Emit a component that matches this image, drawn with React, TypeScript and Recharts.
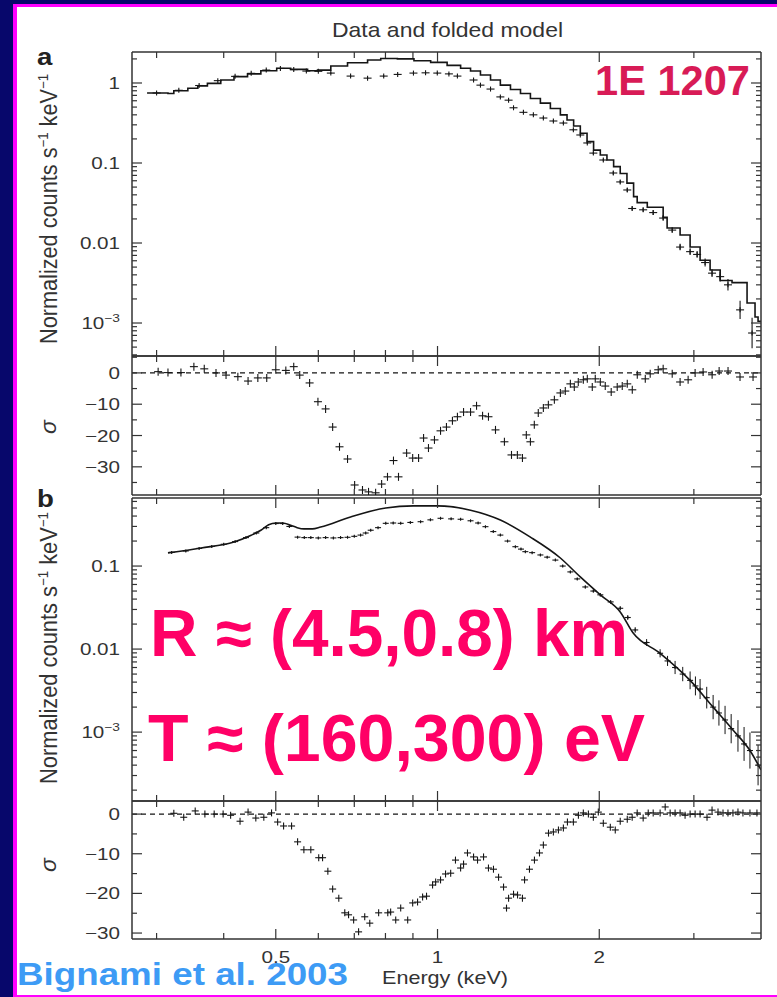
import React from 'react';
import { ComposedChart, Line, Scatter, XAxis, YAxis, ReferenceLine, ErrorBar } from 'recharts';

const FONT = '"Liberation Sans", Arial, Helvetica, sans-serif';
const INK = '#151515';
const FRAME = '#333333';
const LABEL = '#333333';
const NAVY = '#07076b';
const MAGENTA = '#ff00ff';

// ---------- Energy axis ----------
const energyDomain = [0.27, 4.0];
const energyTicks = [0.3, 0.4, 0.5, 0.6, 0.7, 0.8, 0.9, 1, 2, 3];
const energyMajor = [0.5, 1, 2];
const energyLabels = ['0.5', '1', '2'];

// ---------- Spectrum axes ----------
const specMajor = [0.001, 0.01, 0.1, 1];
const specLabels = ['10^−3', '0.01', '0.1', '1'];
const specADomain = [3.87e-4, 2.44];
const specATicks = [
  0.0004, 0.0005, 0.0006, 0.0007, 0.0008, 0.0009, 0.001,
  0.002, 0.003, 0.004, 0.005, 0.006, 0.007, 0.008, 0.009, 0.01,
  0.02, 0.03, 0.04, 0.05, 0.06, 0.07, 0.08, 0.09, 0.1,
  0.2, 0.3, 0.4, 0.5, 0.6, 0.7, 0.8, 0.9, 1, 2,
];
const specBDomain = [1.48e-4, 0.66];
const specBTicks = [
  0.0002, 0.0003, 0.0004, 0.0005, 0.0006, 0.0007, 0.0008, 0.0009, 0.001,
  0.002, 0.003, 0.004, 0.005, 0.006, 0.007, 0.008, 0.009, 0.01,
  0.02, 0.03, 0.04, 0.05, 0.06, 0.07, 0.08, 0.09, 0.1,
  0.2, 0.3, 0.4, 0.5, 0.6,
];

// ---------- Residual axes ----------
const resMajor = [0, -10, -20, -30];
const resLabels = ['0', '−10', '−20', '−30'];
const resADomain = [-39, 5.4];
const resATicks = [5, 0, -5, -10, -15, -20, -25, -30, -35];
const resBDomain = [-31.5, 3.3];
const resBTicks = [0, -5, -10, -15, -20, -25, -30];

// ---------- Panel a : folded model (step) ----------
const modelAE = [0.288, 0.315, 0.323, 0.343, 0.358, 0.373, 0.395, 0.418, 0.443, 0.469, 0.502, 0.533, 0.573, 0.598, 0.633, 0.68, 0.741, 0.784, 0.842, 0.904, 0.971, 1.042, 1.104, 1.152, 1.202, 1.255, 1.309, 1.367, 1.427, 1.489, 1.554, 1.622, 1.693, 1.742, 1.792, 1.844, 1.898, 1.952, 2.009, 2.067, 2.127, 2.188, 2.252, 2.317, 2.353, 2.457, 2.63, 2.675, 2.828, 2.952, 3.081, 3.216, 3.358, 3.533, 3.768, 3.899, 3.95, 4.0];
const modelAV = [0.75, 0.74, 0.8, 0.86, 0.92, 0.99, 1.09, 1.2, 1.3, 1.42, 1.53, 1.48, 1.42, 1.45, 1.63, 1.79, 1.94, 2.02, 2.0, 1.9, 1.81, 1.66, 1.53, 1.41, 1.26, 1.09, 0.94, 0.83, 0.74, 0.64, 0.56, 0.48, 0.4, 0.345, 0.29, 0.235, 0.185, 0.145, 0.126, 0.109, 0.09, 0.074, 0.056, 0.038, 0.032, 0.028, 0.021, 0.0154, 0.0126, 0.0089, 0.0061, 0.0046, 0.0034, 0.0032, 0.00178, 0.00119, 0.00105, 0.00105];

// ---------- Panel a : data ----------
const dataAE = [0.3, 0.33, 0.36, 0.39, 0.42, 0.45, 0.48, 0.51, 0.54, 0.57, 0.6, 0.633, 0.689, 0.741, 0.794, 0.843, 0.902, 0.95, 0.999, 1.05, 1.089, 1.167, 1.202, 1.255, 1.309, 1.356, 1.385, 1.445, 1.508, 1.574, 1.643, 1.715, 1.79, 1.844, 1.9, 1.95, 2.035, 2.124, 2.188, 2.255, 2.303, 2.414, 2.52, 2.63, 2.734, 2.828, 2.952, 3.042, 3.148, 3.243, 3.358, 3.472, 3.657, 3.85];
const dataAV = [0.75, 0.81, 0.93, 1.07, 1.21, 1.32, 1.45, 1.52, 1.47, 1.41, 1.4, 1.33, 1.22, 1.15, 1.22, 1.28, 1.33, 1.34, 1.33, 1.3, 1.22, 1.09, 0.94, 0.84, 0.67, 0.61, 0.49, 0.43, 0.4, 0.365, 0.335, 0.316, 0.26, 0.224, 0.178, 0.133, 0.109, 0.075, 0.058, 0.046, 0.027, 0.026, 0.024, 0.0205, 0.0145, 0.0089, 0.0078, 0.0072, 0.0057, 0.0042, 0.0038, 0.003, 0.00146, 0.00075];
const dataAErr = [1.02, 1.02, 1.02, 1.02, 1.02, 1.02, 1.02, 1.02, 1.02, 1.02, 1.02, 1.02, 1.02, 1.02, 1.02, 1.02, 1.02, 1.02, 1.02, 1.02, 1.02, 1.02, 1.02, 1.02, 1.02, 1.02, 1.02, 1.02, 1.02, 1.02, 1.02, 1.03, 1.03, 1.03, 1.03, 1.04, 1.04, 1.05, 1.05, 1.06, 1.06, 1.06, 1.07, 1.07, 1.08, 1.1, 1.1, 1.1, 1.12, 1.12, 1.15, 1.18, 1.3, 1.55];

// ---------- Residual a ----------
const resAE = [0.302, 0.315, 0.333, 0.352, 0.368, 0.387, 0.404, 0.425, 0.444, 0.463, 0.481, 0.5, 0.522, 0.54, 0.554, 0.578, 0.599, 0.619, 0.638, 0.657, 0.68, 0.701, 0.725, 0.744, 0.767, 0.787, 0.807, 0.828, 0.846, 0.876, 0.899, 0.922, 0.942, 0.962, 0.987, 1.013, 1.039, 1.066, 1.089, 1.118, 1.152, 1.182, 1.213, 1.244, 1.282, 1.332, 1.373, 1.408, 1.439, 1.463, 1.489, 1.514, 1.54, 1.574, 1.608, 1.65, 1.693, 1.729, 1.767, 1.797, 1.828, 1.868, 1.9, 1.941, 1.966, 2.009, 2.052, 2.105, 2.16, 2.207, 2.255, 2.304, 2.354, 2.436, 2.488, 2.575, 2.63, 2.734, 2.828, 2.927, 3.016, 3.121, 3.244, 3.343, 3.473, 3.656, 3.866];
const resAS = [0.4, 0.1, 0.1, 2, 1.3, 0, -0.7, -1.2, -2.6, -1.6, -1.6, 1, 0.8, 2, -0.7, -3.2, -9.2, -11.5, -17.3, -23.6, -27.5, -35.8, -37.4, -38, -38.3, -35.5, -33.2, -28, -33.2, -25.6, -27.2, -27.2, -20.8, -24, -21.4, -18.5, -17.3, -15.3, -14, -12.5, -12.5, -10.5, -13.7, -14, -18.2, -22, -26.2, -26.2, -27.2, -19.8, -22, -16.6, -12.8, -11.2, -10.2, -8.6, -6.4, -5.8, -3.5, -4.5, -2.9, -2.2, -1.9, -4.5, -1.9, -2.9, -4.2, -6.1, -4.5, -4.2, -3.5, -5.4, -0.6, -1.9, -0.3, 1, 1.3, -0.3, -2.9, -2.2, 0, 0.3, -0.6, 0.6, 0.6, -1.3, -1.3];

// ---------- Panel b : model ----------
const modelBE = [0.315, 0.363, 0.418, 0.45, 0.469, 0.485, 0.5, 0.515, 0.533, 0.548, 0.564, 0.585, 0.606, 0.689, 0.801, 0.902, 1.0, 1.152, 1.309, 1.489, 1.693, 1.844, 2.009, 2.188, 2.313, 2.596, 2.952, 3.258, 3.547, 3.815, 4.0];
const modelBV = [0.144, 0.165, 0.195, 0.235, 0.27, 0.315, 0.33, 0.33, 0.31, 0.29, 0.28, 0.28, 0.295, 0.39, 0.5, 0.53, 0.53, 0.47, 0.358, 0.223, 0.125, 0.074, 0.045, 0.028, 0.0156, 0.0089, 0.0042, 0.002, 0.00106, 0.0006, 0.00035];

// ---------- Panel b : data ----------
const dataBE = [0.32, 0.34, 0.36, 0.38, 0.4, 0.42, 0.44, 0.46, 0.48, 0.5, 0.515, 0.53, 0.549, 0.565, 0.581, 0.6, 0.619, 0.64, 0.66, 0.68, 0.7, 0.719, 0.735, 0.751, 0.775, 0.801, 0.827, 0.854, 0.89, 0.93, 0.97, 1.013, 1.06, 1.104, 1.152, 1.19, 1.228, 1.27, 1.309, 1.35, 1.396, 1.43, 1.457, 1.5, 1.554, 1.6, 1.657, 1.71, 1.767, 1.82, 1.884, 1.95, 2.009, 2.1, 2.188, 2.26, 2.333, 2.45, 2.596, 2.68, 2.768, 2.86, 2.952, 3.02, 3.081, 3.17, 3.258, 3.34, 3.429, 3.52, 3.624, 3.72, 3.815, 3.95];
const dataBV = [0.146, 0.152, 0.163, 0.172, 0.183, 0.197, 0.22, 0.25, 0.29, 0.325, 0.325, 0.3, 0.223, 0.22, 0.22, 0.218, 0.22, 0.218, 0.22, 0.222, 0.228, 0.236, 0.25, 0.27, 0.29, 0.327, 0.33, 0.327, 0.335, 0.342, 0.36, 0.376, 0.37, 0.366, 0.351, 0.33, 0.298, 0.26, 0.236, 0.2, 0.171, 0.16, 0.149, 0.145, 0.136, 0.128, 0.118, 0.1, 0.085, 0.07, 0.056, 0.05, 0.045, 0.037, 0.031, 0.024, 0.017, 0.012, 0.0089, 0.0072, 0.006, 0.005, 0.0042, 0.0036, 0.0033, 0.0026, 0.002, 0.0017, 0.0014, 0.0011, 0.0009, 0.00072, 0.0006, 0.0004];
const dataBErr = [1.02, 1.02, 1.02, 1.02, 1.02, 1.02, 1.02, 1.02, 1.02, 1.02, 1.02, 1.02, 1.02, 1.02, 1.02, 1.02, 1.02, 1.02, 1.02, 1.02, 1.02, 1.02, 1.02, 1.02, 1.02, 1.02, 1.02, 1.02, 1.02, 1.02, 1.02, 1.02, 1.02, 1.02, 1.02, 1.02, 1.02, 1.02, 1.02, 1.02, 1.02, 1.02, 1.02, 1.02, 1.02, 1.02, 1.02, 1.03, 1.03, 1.03, 1.04, 1.04, 1.05, 1.05, 1.06, 1.07, 1.08, 1.1, 1.12, 1.15, 1.2, 1.22, 1.28, 1.3, 1.32, 1.35, 1.4, 1.42, 1.48, 1.5, 1.55, 1.6, 1.65, 1.75];

// ---------- Residual b ----------
const resBE = [0.323, 0.337, 0.354, 0.369, 0.384, 0.399, 0.412, 0.429, 0.444, 0.459, 0.475, 0.491, 0.504, 0.517, 0.535, 0.549, 0.564, 0.581, 0.601, 0.611, 0.625, 0.638, 0.655, 0.672, 0.683, 0.698, 0.713, 0.732, 0.748, 0.777, 0.808, 0.818, 0.836, 0.854, 0.88, 0.899, 0.918, 0.938, 0.954, 0.979, 0.992, 1.013, 1.035, 1.058, 1.08, 1.104, 1.118, 1.137, 1.167, 1.187, 1.218, 1.244, 1.271, 1.299, 1.327, 1.344, 1.356, 1.385, 1.409, 1.439, 1.452, 1.483, 1.515, 1.548, 1.574, 1.609, 1.643, 1.679, 1.715, 1.745, 1.79, 1.829, 1.868, 1.909, 1.95, 1.992, 2.035, 2.097, 2.142, 2.188, 2.255, 2.303, 2.353, 2.414, 2.467, 2.52, 2.596, 2.653, 2.71, 2.768, 2.828, 2.889, 2.952, 3.016, 3.081, 3.174, 3.243, 3.327, 3.399, 3.472, 3.547, 3.624, 3.702, 3.815, 3.931];
const resBS = [0.2, -0.8, 0.8, 0, 0, 0, -0.3, -1.8, 0.5, -1, -0.8, 0.3, -2, -3, -3, -7, -9, -9, -11, -11, -14.4, -18.9, -21.2, -24.9, -25.4, -26.7, -29.7, -25.9, -27.5, -24.9, -24.9, -24.7, -26.7, -23.7, -26.7, -22.4, -22.2, -20.9, -20.7, -17.9, -17.1, -16.6, -15.1, -14.9, -11.6, -13.6, -12.6, -9.8, -10.8, -11.6, -10.8, -13.6, -13.9, -15.9, -18.4, -23.7, -21.2, -20.2, -20.4, -21.2, -16.6, -13.9, -11.6, -9.8, -7.8, -4.8, -4.5, -4, -3.5, -2, -2, -0.3, 0.3, 0, -0.8, 0.5, -2.3, -3.3, -4, -1.8, -1.3, -0.8, 0.3, -1, 0.3, 0.3, 0.3, 1.8, 0.3, 0.3, 0.3, -0.3, 0, 0, 0, -0.8, 1, 0.5, 0.3, 0.3, 0.3, 0.5, 0.3, 0.3, 0.3];

type Pt = { e: number; v: number; err?: [number, number] };
const zip = (es: number[], vs: number[]): Pt[] => es.map((e, i) => ({ e, v: vs[i] }));
const zipErr = (es: number[], vs: number[], ks: number[]): Pt[] =>
  es.map((e, i) => ({ e, v: vs[i], err: [vs[i] - vs[i] / ks[i], vs[i] * ks[i] - vs[i]] as [number, number] }));

const modelA = zip(modelAE, modelAV);
const dataA = zipErr(dataAE, dataAV, dataAErr);
const residA = zip(resAE, resAS);
const modelB = zip(modelBE, modelBV);
const dataB = zipErr(dataBE, dataBV, dataBErr);
const residB = zip(resBE, resBS);

const TICK_FS = 16.5;
const TICK_SX = 1.25;

function xTick(side: 'bottom' | 'top', showLabels: boolean) {
  return (props: any) => {
    const { x, y, payload } = props;
    const v = payload.value;
    const mi = energyMajor.indexOf(v);
    const len = mi >= 0 ? 10 : 6;
    const dir = side === 'bottom' ? -1 : 1;
    return (
      <g>
        <line x1={x} x2={x} y1={y} y2={y + dir * len} stroke={FRAME} strokeWidth={1.2} />
        {showLabels && mi >= 0 && (
          <text transform={`translate(${x},${y + 24}) scale(${TICK_SX},1)`} textAnchor="middle" fontSize={TICK_FS} fill={LABEL} fontFamily={FONT}>
            {energyLabels[mi]}
          </text>
        )}
      </g>
    );
  };
}

function yTick(side: 'left' | 'right', major: number[], labels: string[] | null) {
  return (props: any) => {
    const { x, y, payload } = props;
    const v = payload.value;
    const mi = major.findIndex((m) => m === v || Math.abs(m - v) <= 1e-9 * Math.max(1e-6, Math.abs(m)));
    const len = mi >= 0 ? 10 : 5;
    const dir = side === 'left' ? 1 : -1;
    let label: React.ReactNode = null;
    if (labels && mi >= 0) {
      const parts = labels[mi].split('^');
      label = (
        <text transform={`translate(${x - 12},${y + 6}) scale(${TICK_SX},1)`} textAnchor="end" fontSize={TICK_FS} fill={LABEL} fontFamily={FONT}>
          {parts[0]}
          {parts.length > 1 && (
            <tspan dy={-7} fontSize={11}>
              {parts[1]}
            </tspan>
          )}
        </text>
      );
    }
    return (
      <g>
        <line x1={x} x2={x + dir * len} y1={y} y2={y} stroke={FRAME} strokeWidth={1.2} />
        {label}
      </g>
    );
  };
}

function cross(hw: number, hh: number) {
  return (p: any) => {
    const { cx, cy } = p;
    if (cx == null || cy == null || isNaN(cx) || isNaN(cy)) return <g />;
    return (
      <g>
        <line x1={cx - hw} x2={cx + hw} y1={cy} y2={cy} stroke={INK} strokeWidth={1.1} />
        <line x1={cx} x2={cx} y1={cy - hh} y2={cy + hh} stroke={INK} strokeWidth={1.1} />
      </g>
    );
  };
}

const axisLine = { stroke: FRAME, strokeWidth: 1.5 };

type PanelProps = {
  top: number;
  plotHeight: number;
  marginBottom: number;
  logY: boolean;
  yDomain: number[];
  yTicks: number[];
  yMajor: number[];
  yLabels: string[];
  showXLabels: boolean;
  children: React.ReactNode;
  hidden: Pt[];
};

function Panel(props: PanelProps) {
  const { top, plotHeight, marginBottom, logY, yDomain, yTicks, yMajor, yLabels, showXLabels, children, hidden } = props;
  const mt = 10;
  const common = { type: 'number' as const, allowDataOverflow: true, interval: 0 as const, mirror: true, tickSize: 0, tickMargin: 0, tickLine: false, axisLine };
  return (
    <div style={{ position: 'absolute', left: 0, top: top - mt }}>
      <ComposedChart width={777} height={plotHeight + mt + marginBottom} margin={{ top: mt, right: 16, bottom: marginBottom, left: 132 }}>
        <XAxis xAxisId="b" dataKey="e" scale="log" domain={energyDomain} ticks={energyTicks} orientation="bottom" height={20} {...common} tick={xTick('bottom', showXLabels)} />
        <XAxis xAxisId="t" dataKey="e" scale="log" domain={energyDomain} ticks={energyTicks} orientation="top" height={20} {...common} tick={xTick('top', false)} />
        <YAxis yAxisId="l" dataKey="v" scale={logY ? 'log' : 'linear'} domain={yDomain} ticks={yTicks} orientation="left" width={20} {...common} tick={yTick('left', yMajor, yLabels)} />
        <YAxis yAxisId="r" dataKey="v" scale={logY ? 'log' : 'linear'} domain={yDomain} ticks={yTicks} orientation="right" width={20} {...common} tick={yTick('right', yMajor, null)} />
        <Line xAxisId="t" yAxisId="r" data={hidden} dataKey="v" stroke="none" dot={false} activeDot={false} isAnimationActive={false} legendType="none" />
        {children}
      </ComposedChart>
    </div>
  );
}

const labelStyle = { fontFamily: FONT, fill: LABEL };

export default function App() {
  return (
    <div style={{ position: 'absolute', left: 0, top: 0, width: 777, height: 997, background: NAVY, overflow: 'hidden', fontFamily: FONT }}>
      <div style={{ position: 'absolute', left: 13, top: 4, width: 780, height: 1000, background: MAGENTA }} />
      <div style={{ position: 'absolute', left: 17, top: 7, width: 780, height: 988, background: '#ffffff' }} />

      {/* Panel a spectrum */}
      <Panel top={52} plotHeight={304} marginBottom={10} logY yDomain={specADomain} yTicks={specATicks} yMajor={specMajor} yLabels={specLabels} showXLabels={false} hidden={modelA}>
        <Line xAxisId="b" yAxisId="l" data={modelA} dataKey="v" type="stepAfter" stroke={INK} strokeWidth={1.6} dot={false} activeDot={false} isAnimationActive={false} />
        <Scatter xAxisId="b" yAxisId="l" data={dataA} dataKey="v" shape={cross(4, 2.5)} isAnimationActive={false}>
          <ErrorBar dataKey="err" direction="y" width={0} stroke={INK} strokeWidth={1.1} />
        </Scatter>
      </Panel>

      {/* Panel a residuals */}
      <Panel top={356} plotHeight={139} marginBottom={10} logY={false} yDomain={resADomain} yTicks={resATicks} yMajor={resMajor} yLabels={resLabels} showXLabels={false} hidden={residA}>
        <ReferenceLine xAxisId="b" yAxisId="l" y={0} stroke={INK} strokeWidth={1.1} strokeDasharray="5 4" />
        <Scatter xAxisId="b" yAxisId="l" data={residA} dataKey="v" shape={cross(4, 4)} isAnimationActive={false} />
      </Panel>

      {/* Panel b spectrum */}
      <Panel top={498} plotHeight={303} marginBottom={10} logY yDomain={specBDomain} yTicks={specBTicks} yMajor={specMajor} yLabels={specLabels} showXLabels={false} hidden={modelB}>
        <Line xAxisId="b" yAxisId="l" data={modelB} dataKey="v" type="monotone" stroke={INK} strokeWidth={1.6} dot={false} activeDot={false} isAnimationActive={false} />
        <Scatter xAxisId="b" yAxisId="l" data={dataB} dataKey="v" shape={cross(3, 1.5)} isAnimationActive={false}>
          <ErrorBar dataKey="err" direction="y" width={0} stroke={INK} strokeWidth={1} />
        </Scatter>
      </Panel>

      {/* Panel b residuals */}
      <Panel top={801} plotHeight={138} marginBottom={40} logY={false} yDomain={resBDomain} yTicks={resBTicks} yMajor={resMajor} yLabels={resLabels} showXLabels hidden={residB}>
        <ReferenceLine xAxisId="b" yAxisId="l" y={0} stroke={INK} strokeWidth={1.1} strokeDasharray="5 4" />
        <Scatter xAxisId="b" yAxisId="l" data={residB} dataKey="v" shape={cross(3.5, 3.5)} isAnimationActive={false} />
      </Panel>

      {/* Annotations */}
      <svg width={777} height={997} style={{ position: 'absolute', left: 0, top: 0, pointerEvents: 'none' }}>
        <text x={332} y={37} fontSize={21} {...labelStyle} textLength={231} lengthAdjust="spacingAndGlyphs">Data and folded model</text>
        <text transform="translate(37,65) scale(1.15,1)" fontSize={24} fontWeight="bold" fill="#222" fontFamily={FONT}>a</text>
        <text transform="translate(37,507) scale(1.15,1)" fontSize={24} fontWeight="bold" fill="#222" fontFamily={FONT}>b</text>

        <text transform="translate(57,209) rotate(-90)" textAnchor="middle" fontSize={23} {...labelStyle} textLength={270} lengthAdjust="spacingAndGlyphs">
          Normalized counts s<tspan dy={-9} fontSize={14}>−1</tspan><tspan dy={9}> keV</tspan><tspan dy={-9} fontSize={14}>−1</tspan>
        </text>
        <text transform="translate(57,648) rotate(-90)" textAnchor="middle" fontSize={23} {...labelStyle} textLength={272} lengthAdjust="spacingAndGlyphs">
          Normalized counts s<tspan dy={-9} fontSize={14}>−1</tspan><tspan dy={9}> keV</tspan><tspan dy={-9} fontSize={14}>−1</tspan>
        </text>
        <text transform="translate(56,427) rotate(-90)" textAnchor="middle" fontSize={23} fontStyle="italic" {...labelStyle}>σ</text>
        <text transform="translate(56,865) rotate(-90)" textAnchor="middle" fontSize={23} fontStyle="italic" {...labelStyle}>σ</text>

        <text x={382} y={984} fontSize={19} {...labelStyle} textLength={126} lengthAdjust="spacingAndGlyphs">Energy (keV)</text>

        <text x={595} y={95} fontSize={42} fontWeight="bold" fill="#d81b56" fontFamily={FONT} textLength={155} lengthAdjust="spacingAndGlyphs">1E 1207</text>
        <text x={150} y={656} fontSize={66} fontWeight="bold" fill="#ff0066" fontFamily={FONT} textLength={478} lengthAdjust="spacingAndGlyphs">R ≈ (4.5,0.8) km</text>
        <text x={148} y={761} fontSize={66} fontWeight="bold" fill="#ff0066" fontFamily={FONT} textLength={497} lengthAdjust="spacingAndGlyphs">T ≈ (160,300) eV</text>
        <text x={17} y={985} fontSize={32} fontWeight="bold" fill="#3d9bf5" fontFamily={FONT} textLength={331} lengthAdjust="spacingAndGlyphs">Bignami et al. 2003</text>
      </svg>
    </div>
  );
}
